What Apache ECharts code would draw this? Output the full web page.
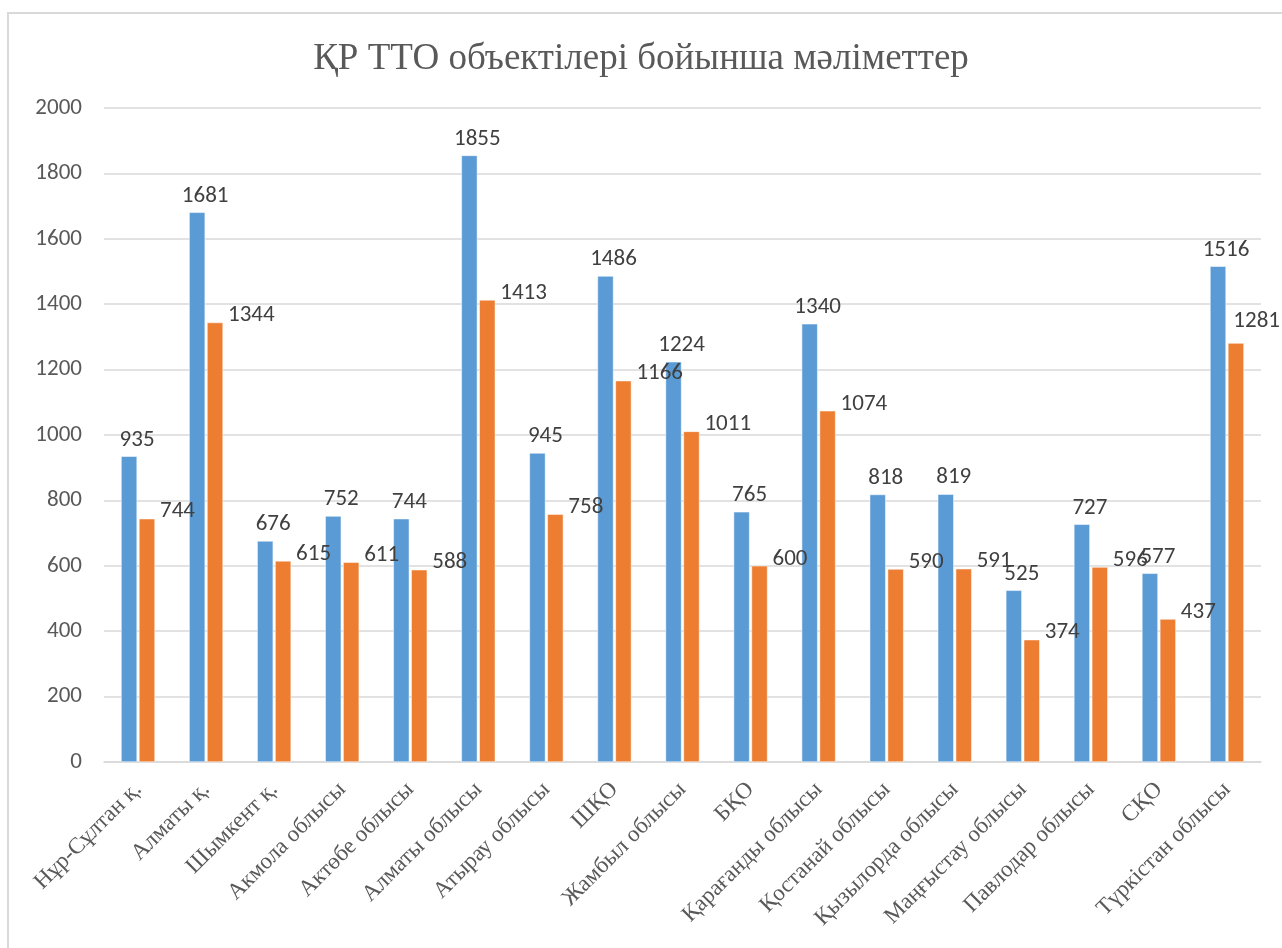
<!DOCTYPE html>
<html>
<head>
<meta charset="utf-8" />
<title>ҚР ТТО объектілері</title>
<style type="text/css">
  body, html {width:100%;height:100%;margin:0;overflow:hidden;background:#fff;}
  #frame {position:absolute;left:7px;top:12px;right:-2px;bottom:-2px;border:2px solid #d9d9d9;}
  #main {position:absolute;left:0;top:0;width:1282px;height:948px;}
</style>
<script src="https://cdn.jsdelivr.net/npm/echarts@6/dist/echarts.min.js"></script>
</head>
<body>
<div id="frame"></div>
<div id="main"></div>
<script type="text/javascript">
// аймақтар
var regions = ['Нұр-Сұлтан қ.', 'Алматы қ.', 'Шымкент қ.', 'Акмола облысы', 'Актөбе облысы',
  'Алматы облысы', 'Атырау облысы', 'ШҚО', 'Жамбыл облысы', 'БҚО', 'Қарағанды облысы',
  'Қостанай облысы', 'Қызылорда облысы', 'Маңғыстау облысы', 'Павлодар облысы', 'СҚО', 'Түркістан облысы'];
var seriesA = [935, 1681, 676, 752, 744, 1855, 945, 1486, 1224, 765, 1340, 818, 819, 525, 727, 577, 1516];
var seriesB = [744, 1344, 615, 611, 588, 1413, 758, 1166, 1011, 600, 1074, 590, 591, 374, 596, 437, 1281];
var yTicks = [0, 200, 400, 600, 800, 1000, 1200, 1400, 1600, 1800, 2000];

var chart = echarts.init(document.getElementById('main'));
var sans = 'Carlito, "Liberation Sans", "Noto Sans", sans-serif';
var serif = '"Liberation Serif", "DejaVu Serif", serif';
var lblFont = {fontFamily: sans, fontSize: 23, color: '#404040'};
var option = {
  animation: false,
  title: {
    text: 'ҚР ТТО объектілері бойынша мәліметтер',
    left: 'center', top: 36,
    textStyle: {fontFamily: serif, fontSize: 37, fontWeight: 'normal', color: '#595959'}
  },
  grid: {left: 104, right: 21, top: 108, bottom: 186},
  xAxis: {
    type: 'category',
    data: regions,
    axisLine: {lineStyle: {color: '#d9d9d9', width: 1.5}},
    axisTick: {show: false},
    axisLabel: {
      interval: 0, rotate: 45, margin: 24,
      fontFamily: serif, fontSize: 23, color: '#595959'
    }
  },
  yAxis: {
    type: 'value', min: yTicks[0], max: yTicks[yTicks.length - 1], interval: 200,
    axisLine: {show: false},
    axisTick: {show: false},
    splitLine: {lineStyle: {color: '#d9d9d9', width: 1.5}},
    axisLabel: {margin: 22, fontFamily: sans, fontSize: 23, color: '#595959', formatter: function (v) { return String(v); }}
  },
  series: [
    {
      name: 'A', type: 'bar', data: seriesA, barWidth: 16, barGap: '12%',
      itemStyle: {color: '#5b9bd5', borderColor: '#fff', borderWidth: 0.5},
      label: Object.assign({show: true, position: 'top'}, lblFont),
      labelLayout: function () { return {dx: 8, dy: 0}; }
    },
    {
      name: 'B', type: 'bar', data: seriesB, barWidth: 16,
      itemStyle: {color: '#ed7d31', borderColor: '#fff', borderWidth: 0.5},
      label: Object.assign({show: true, position: ['100%', 0], align: 'left', verticalAlign: 'middle'}, lblFont),
      // жапсырма шеттен шықпасын
      labelLayout: function (params) {
        var r = params.labelRect;
        if (r.x + r.width + 4 > 1280) {
          return {x: 1280 - r.width, y: r.y - 22, align: 'left', verticalAlign: 'top'};
        }
        return {dx: 5, dy: -7};
      }
    }
  ]
};
chart.setOption(option);
</script>
</body>
</html>
